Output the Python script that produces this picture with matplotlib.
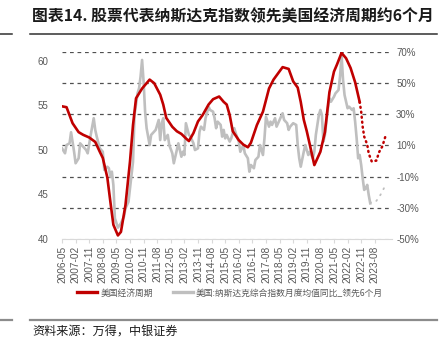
import matplotlib
matplotlib.use('Agg')
import matplotlib.pyplot as plt
from matplotlib import font_manager as fm
from matplotlib.lines import Line2D

# ---------------- data (month offset from 2006-05) ----------------
cycle_m = [0, 3, 7, 11, 14, 18, 22, 25, 27, 30, 32, 34, 37, 39, 42, 45, 47, 49, 53, 55,
           58, 61, 65, 67, 69, 73, 76, 79, 82, 84, 87, 90, 93, 97, 100, 104, 107, 109, 111, 113,
           117, 120, 123, 125, 129, 133, 137, 140, 143, 146, 150, 153, 156, 158, 160, 162, 164, 167, 171, 174,
           177, 180, 182, 185, 188, 191, 194, 197]
cycle_v = [54.9, 54.8, 53.0, 52.0, 51.7, 51.4, 50.9, 49.8, 49.1, 46.9, 44.2, 41.6, 40.4, 40.8, 43.8, 48.7, 52.8, 55.8, 56.9, 57.3,
           57.9, 57.5, 56.2, 55.1, 53.6, 52.6, 52.1, 51.8, 51.3, 51.0, 51.9, 53.2, 53.9, 55.1, 55.7, 56.0, 55.4, 55.1, 53.9, 52.1,
           51.1, 50.6, 50.3, 50.8, 52.8, 54.3, 56.9, 57.9, 58.6, 59.3, 59.1, 57.7, 57.0, 55.4, 53.4, 52.1, 50.6, 48.3, 49.8, 52.0,
           56.5, 58.8, 59.6, 60.9, 60.3, 59.2, 57.6, 55.4]
cycle_fc_m = [197, 198, 199, 200, 202, 203, 205, 208, 210, 212, 214]
cycle_fc_v = [55.4, 54.3, 52.6, 51.5, 50.6, 49.6, 48.7, 48.8, 49.8, 50.4, 51.5]

nasdaq_m = [0, 2, 3, 5, 6, 8, 9, 11, 12, 14, 16, 17, 19, 21, 22, 23, 25, 27, 28, 30,
            31, 32, 33, 34, 35, 37, 39, 41, 42, 44, 45, 47, 48, 50, 51, 52, 53, 54, 55, 56,
            58, 59, 61, 62, 64, 65, 66, 67, 68, 70, 71, 73, 74, 75, 77, 79, 80, 81, 82, 84,
            85, 87, 88, 90, 91, 92, 94, 95, 97, 98, 100, 101, 102, 103, 105, 106, 107, 108, 109, 111,
            112, 114, 115, 117, 118, 120, 121, 123, 124, 125, 127, 128, 130, 131, 133, 134, 135, 137, 138, 139,
            141, 142, 144, 145, 146, 147, 149, 150, 151, 153, 155, 156, 157, 158, 160, 161, 163, 164, 166, 167,
            168, 170, 171, 172, 173, 174, 175, 176, 177, 178, 180, 181, 183, 184, 185, 186, 187, 188, 189, 190,
            192, 193, 194, 195, 196, 197, 198, 199, 200, 201, 202, 203, 204]
nasdaq_v = [8.2, 5.0, 10.3, 11.4, 18.5, 6.0, -1.4, 1.8, 11.4, 9.2, 7.1, 5.0, 16.8, 27.5, 20.0, 15.7, 8.2, 6.0, -5.7, -3.6,
            -4.6, -10.0, -6.8, -15.3, -36.7, -42.7, -39.9, -35.7, -30.3, -26.1, -17.5, -0.4, 29.6, 43.5, 46.7, 54.2, 64.9, 51.0, 31.7, 21.1,
            10.3, 16.8, 18.9, 20.0, 26.4, 13.5, 24.3, 27.5, 13.5, 16.8, 10.3, 5.0, -1.4, 2.8, 11.4, 2.8, 6.0, 3.9, 24.3, 16.8,
            15.7, 11.4, 7.1, 8.2, 18.9, 22.1, 20.0, 27.5, 34.9, 32.8, 31.7, 27.5, 21.1, 25.3, 23.2, 15.7, 20.0, 14.6, 16.8, 12.5,
            14.6, 21.1, 17.8, 12.5, 6.0, 10.3, 5.0, 1.8, -6.8, -2.5, -4.6, 0.7, 2.8, 10.3, 3.9, 14.6, 28.5, 22.1, 25.3, 23.2,
            27.5, 22.1, 26.4, 28.5, 30.7, 26.4, 24.3, 20.0, 22.1, 24.3, 23.2, 10.3, 1.8, -3.6, 6.0, 10.3, 3.9, 6.0, 1.8, 6.0,
            16.8, 29.6, 32.8, 29.6, 12.5, 16.8, 25.3, 33.9, 40.3, 38.1, 41.3, 43.5, 45.6, 54.2, 68.1, 52.0, 42.4, 38.1, 33.9, 34.9,
            32.8, 33.9, 25.3, 14.6, 1.8, 3.9, -2.5, -11.0, -18.5, -17.5, -15.3, -21.8, -27.1]
nasdaq_fc_m = [204, 205, 208, 210, 212, 213, 215]
nasdaq_fc_v = [-27.1, -26.1, -25.6, -22.9, -19.6, -17.5, -15.0]

tick_labels = ['2006-05', '2007-02', '2007-11', '2008-08', '2009-05', '2010-02', '2010-11', '2011-08',
               '2012-05', '2013-02', '2013-11', '2014-08', '2015-05', '2016-02', '2016-11', '2017-08',
               '2018-05', '2019-02', '2019-11', '2020-08', '2021-05', '2022-02', '2022-11', '2023-08']
tick_pos = [9 * i for i in range(len(tick_labels))]
left_ticks = [40, 45, 50, 55, 60]
right_ticks = [-50, -30, -10, 10, 30, 50, 70]

title = '图表14. 股票代表纳斯达克指数领先美国经济周期约6个月'
legend_labels = ['美国经济周期', '美国:纳斯达克综合指数月度均值同比_领先6个月']
source = '资料来源：万得，中银证券'

# ---------------- style ----------------
names = {f.name for f in fm.fontManager.ttflist}
NUM = 'Liberation Sans Narrow' if 'Liberation Sans Narrow' in names else 'Liberation Sans'
CJK = ['Noto Sans CJK SC', 'DejaVu Sans']
plt.rcParams['font.family'] = CJK
RED = '#c00000'
GRAY = '#bfbfbf'
TXT = '#595959'

fig = plt.figure(figsize=(4.42, 3.55), dpi=100)
ax = fig.add_axes([62 / 442, 1 - 239 / 355, 330 / 442, 187 / 355])
ax2 = ax.twinx()

ax2.plot(nasdaq_m, nasdaq_v, color=GRAY, lw=1.9, solid_joinstyle='round')
ax2.plot(nasdaq_fc_m, nasdaq_fc_v, color=GRAY, lw=1.3, linestyle=(0, (0.6, 3.2)),
         dash_capstyle='round')
ax.plot(cycle_m, cycle_v, color=RED, lw=1.9, solid_joinstyle='round')
ax.plot(cycle_fc_m, cycle_fc_v, color=RED, lw=1.8, linestyle=(0, (0.4, 1.6)),
        dash_capstyle='round')

ax.set_zorder(ax2.get_zorder() + 1)
ax.patch.set_visible(False)

ax.set_xlim(0, 218.4)
ax.set_ylim(40, 61)
ax2.set_ylim(-50, 70)
ax.set_yticks(left_ticks)
ax.set_yticklabels([str(t) for t in left_ticks])
ax2.set_yticks(right_ticks)
ax2.set_yticklabels([f'{t}%' for t in right_ticks])
ax.set_xticks(tick_pos)
ax.set_xticklabels(tick_labels, rotation=90)

ax2.yaxis.grid(True, color='#505050', lw=0.9, linestyle=(0, (3, 3)))
ax2.get_ygridlines()[0].set_color('#d9d9d9')

for a in (ax, ax2):
    for s in a.spines.values():
        s.set_visible(False)
ax.spines['bottom'].set_visible(True)
ax.spines['bottom'].set_color('#d9d9d9')

ax.tick_params(axis='y', length=0, pad=10, labelsize=7, labelcolor=TXT)
ax2.tick_params(axis='y', length=0, pad=3, labelsize=7, labelcolor=TXT)
ax.tick_params(axis='x', length=3, color='#d9d9d9', pad=2, labelsize=7.3, labelcolor=TXT)
for lab in ax.get_xticklabels() + ax.get_yticklabels() + ax2.get_yticklabels():
    lab.set_fontfamily(NUM)

# legend
handles = [Line2D([], [], color=RED, lw=2.4), Line2D([], [], color=GRAY, lw=2.4)]
fig.legend(handles, legend_labels, loc='center', bbox_to_anchor=(230 / 442, 1 - 293 / 355),
           ncol=2, frameon=False, fontsize=6.3, handlelength=2.3, handletextpad=0.35,
           columnspacing=2.3, labelcolor=TXT)

# title and rules
fig.text(32 / 442, 1 - 16 / 355, title, fontsize=11.4, fontweight='bold', color='#1a1a1a',
         va='center', ha='left')
fig.add_artist(Line2D([30 / 442, 437 / 442], [1 - 34 / 355] * 2, color='#303030', lw=1.1))
fig.add_artist(Line2D([0, 12 / 442], [1 - 34 / 355] * 2, color='#303030', lw=1.1))
fig.add_artist(Line2D([30 / 442, 437 / 442], [1 - 320 / 355] * 2, color='#8c8c8c', lw=1.6))
fig.add_artist(Line2D([0, 12 / 442], [1 - 320 / 355] * 2, color='#8c8c8c', lw=1.6))
fig.text(32 / 442, 1 - 331 / 355, source, fontsize=8.7, color='#1a1a1a', style='italic',
         va='center', ha='left')

fig.savefig('out.png', dpi=100)
